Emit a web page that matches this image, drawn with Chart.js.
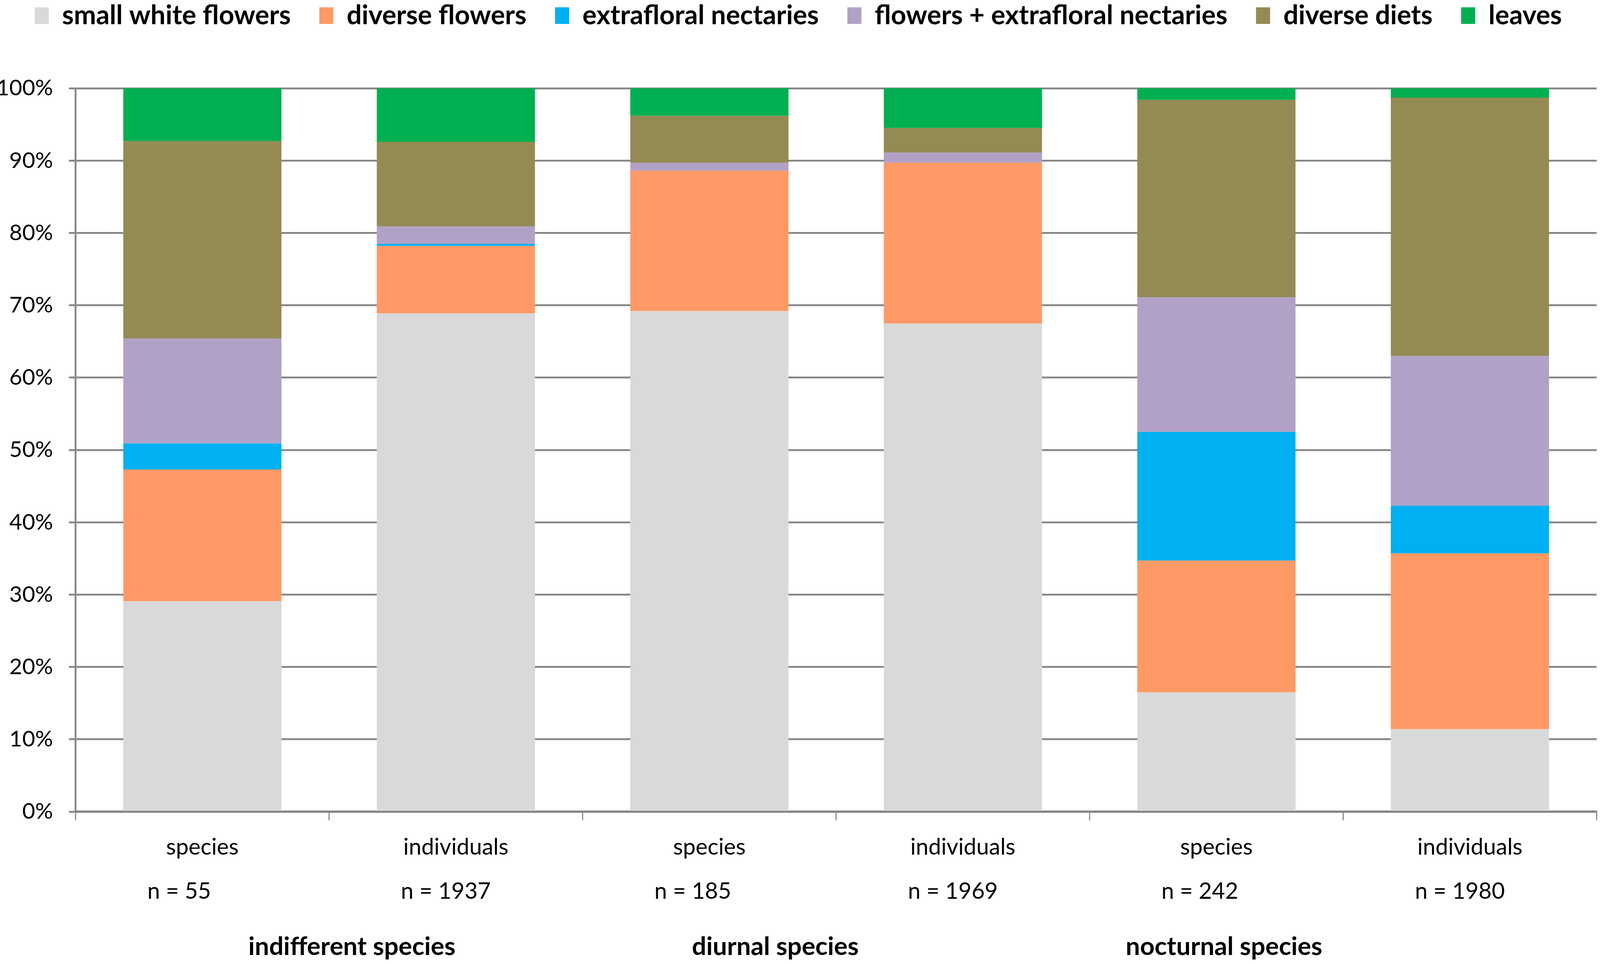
<!DOCTYPE html>
<html>
<head>
<meta charset="utf-8">
<title>Food sources by activity pattern</title>
<script src="https://cdn.jsdelivr.net/npm/chart.js@4.4.1/dist/chart.umd.min.js"></script>
<style>
    html, body { margin: 0; padding: 0; background: #ffffff; overflow: hidden; }
    #wrap { width: 100vw; height: 100vh; position: relative; }
</style>
</head>
<body>
<div id="wrap"><canvas id="dietChart"></canvas></div>
<script>
// Data (percent of each bar)
const categories = ['species', 'individuals', 'species', 'individuals', 'species', 'individuals'];
const sampleSizes = ['n = 55', 'n = 1937', 'n = 185', 'n = 1969', 'n = 242', 'n = 1980'];
const groupNames = ['indifferent species', 'diurnal species', 'nocturnal species'];

const smallWhiteFlowers = [29.1, 68.9, 69.2, 67.5, 16.5, 11.4];
const diverseFlowers = [18.2, 9.3, 19.4, 22.2, 18.2, 24.3];
const extrafloralNectaries = [3.6, 0.3, 0, 0, 17.8, 6.6];
const flowersAndNectaries = [14.5, 2.4, 1.1, 1.4, 18.6, 20.7];
const diverseDiets = [27.3, 11.7, 6.5, 3.4, 27.3, 35.7];
const leaves = [7.3, 7.4, 3.8, 5.5, 1.6, 1.3];

const yTicks = [0, 10, 20, 30, 40, 50, 60, 70, 80, 90, 100];

const FONT = 'Lato, "Open Sans", sans-serif';
const GRID = '#878787';

// scale everything from the 4317 x 2468 design size to the real window
const W = window.innerWidth;
const H = window.innerHeight;
const sx = W / 4317;
const sy = H / 2468;
const sf = Math.min(sx, sy);

// Legend: keep wide horizontal spacing but pull the row up to the top edge
const legendPlacement = {
    id: 'legendPlacement',
    beforeInit(chart) {
        const legend = chart.legend;
        const fit = legend.fit;
        legend.fit = function () {
            fit.call(this);
            this.height = 226 * sy;
        };
    },
    afterLayout(chart) {
        const legend = chart.legend;
        const opts = legend.options.labels;
        legend.top = 40 * sy - opts.padding - opts.font.size / 2;
    }
};

// Sample sizes and group names under the category labels
const axisNotes = {
    id: 'axisNotes',
    afterDraw(chart) {
        const x = chart.scales.x;
        const ctx = chart.ctx;
        const step = x.getPixelForValue(1) - x.getPixelForValue(0);
        ctx.save();
        ctx.fillStyle = '#000000';
        ctx.textBaseline = 'middle';

        ctx.font = Math.round(61 * sf) + 'px ' + FONT;
        ctx.textAlign = 'left';
        sampleSizes.forEach((label, i) => {
            ctx.fillText(label, x.getPixelForValue(i) - step * 0.217, 2282 * sy);
        });

        ctx.font = 'bold ' + Math.round(68 * sf) + 'px ' + FONT;
        ctx.textAlign = 'center';
        const groupPos = [0.59, 2.26, 4.03];
        groupNames.forEach((label, i) => {
            ctx.fillText(label, x.getPixelForValue(0) + step * groupPos[i], 2424 * sy);
        });
        ctx.restore();
    }
};

const ctx = document.getElementById('dietChart');

new Chart(ctx, {
    type: 'bar',
    data: {
        labels: categories,
        datasets: [
            { label: 'small white flowers', data: smallWhiteFlowers, backgroundColor: '#D9D9D9' },
            { label: 'diverse flowers', data: diverseFlowers, backgroundColor: '#FF9966' },
            { label: 'extrafloral nectaries', data: extrafloralNectaries, backgroundColor: '#00B0F0' },
            { label: 'flowers + extrafloral nectaries', data: flowersAndNectaries, backgroundColor: '#B2A1C7' },
            { label: 'diverse diets', data: diverseDiets, backgroundColor: '#948A54' },
            { label: 'leaves', data: leaves, backgroundColor: '#00B050' }
        ]
    },
    options: {
        responsive: true,
        maintainAspectRatio: false,
        animation: false,
        datasets: {
            bar: {
                categoryPercentage: 1,
                barPercentage: 0.624,
                borderWidth: 0
            }
        },
        layout: {
            padding: { left: 0, right: 9 * sx, top: 0, bottom: 0 }
        },
        plugins: {
            legend: {
                position: 'top',
                align: 'center',
                labels: {
                    color: '#000000',
                    boxWidth: 38 * sf,
                    boxHeight: 45 * sf,
                    padding: 77 * sf,
                    font: { family: FONT, size: Math.round(72 * sf), weight: 'bold' }
                }
            },
            tooltip: { enabled: false }
        },
        scales: {
            x: {
                stacked: true,
                offset: true,
                grid: {
                    display: true,
                    offset: true,
                    drawOnChartArea: false,
                    drawTicks: true,
                    tickLength: 22 * sy,
                    color: GRID,
                    lineWidth: 3 * sf
                },
                border: { display: true, color: GRID, width: 6 * sf },
                ticks: {
                    color: '#000000',
                    padding: 34 * sy,
                    maxRotation: 0,
                    autoSkip: false,
                    font: { family: FONT, size: Math.round(61 * sf) }
                },
                afterFit(scale) {
                    scale.height = 390 * sy;
                }
            },
            y: {
                stacked: true,
                min: 0,
                max: 100,
                afterBuildTicks(scale) {
                    scale.ticks = yTicks.map(v => ({ value: v }));
                },
                grid: {
                    color: GRID,
                    lineWidth: 5 * sf,
                    tickLength: 18 * sx
                },
                border: { display: true, color: GRID, width: 5 * sf },
                ticks: {
                    color: '#000000',
                    padding: 43 * sx,
                    font: { family: FONT, size: Math.round(60 * sf) },
                    callback: (value) => value + '%'
                },
                afterFit(scale) {
                    scale.width = 204 * sx;
                }
            }
        }
    },
    plugins: [legendPlacement, axisNotes]
});
</script>
</body>
</html>
